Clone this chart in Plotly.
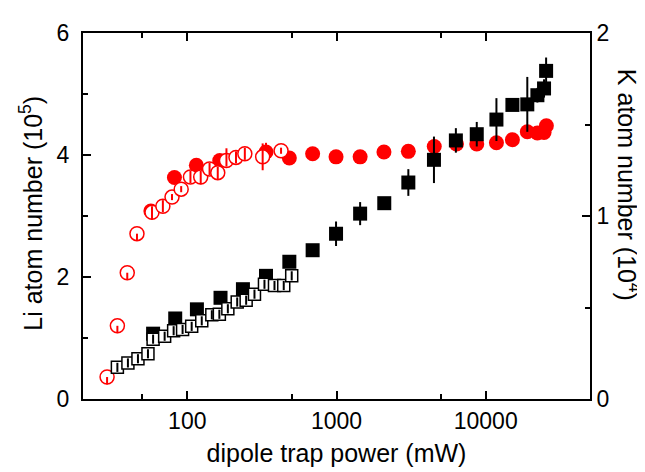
import plotly.graph_objects as go

# ---- data (dipole trap power in mW) ----
# K (black squares, right axis, units of 1e4)
k_fill_x = [59, 83, 116, 167, 236, 337, 483, 692, 993, 1440, 2090, 3030, 4500,
            6310, 8710, 11800, 15100, 19000, 22200, 24600, 25400]
k_fill_y = [0.357, 0.440, 0.490, 0.553, 0.600, 0.673, 0.750, 0.813, 0.903, 1.013,
            1.070, 1.183, 1.307, 1.413, 1.447, 1.527, 1.607, 1.610, 1.660, 1.697, 1.793]
k_fill_err = [0.017, 0.017, 0.017, 0.017, 0.02, 0.02, 0.027, 0.027, 0.067, 0.063,
              0.027, 0.073, 0.127, 0.067, 0.067, 0.117, 0.027, 0.15, 0.04, 0.05, 0.073]

k_open_x = [34, 40, 46.7, 54.5, 59, 70.5, 81, 93, 107, 125, 146, 164, 187, 216,
            248, 282, 329, 384, 443, 501]
k_open_y = [0.173, 0.197, 0.220, 0.247, 0.327, 0.343, 0.373, 0.380, 0.397, 0.427,
            0.460, 0.463, 0.493, 0.530, 0.540, 0.573, 0.627, 0.620, 0.620, 0.673]
k_open_err = [0.025] * 20

# Li (red circles, left axis, units of 1e5)
li_fill_x = [57, 82, 115, 165, 337, 483, 692, 993, 1440, 2080, 3030, 4520, 6370,
             8710, 11800, 15100, 19000, 22200, 24600, 25500]
li_fill_y = [3.08, 3.63, 3.83, 3.91, 4.05, 3.95, 4.02, 3.97, 3.97, 4.05, 4.06, 4.14,
             4.18, 4.18, 4.20, 4.25, 4.38, 4.36, 4.37, 4.48]
li_fill_err = [0.05, 0.05, 0.05, 0.08, 0.15, 0.05, 0.05, 0.05, 0.05, 0.05, 0.05,
               0.05, 0.05, 0.05, 0.05, 0.05, 0.05, 0.05, 0.05, 0.05]

li_open_x = [29, 34, 39.6, 46, 58, 68.6, 79, 91, 105, 123, 141, 160, 183, 212, 243,
             320, 425]
li_open_y = [0.36, 1.20, 2.07, 2.71, 3.06, 3.16, 3.31, 3.44, 3.64, 3.64, 3.77, 3.71,
             3.91, 3.96, 4.02, 3.97, 4.07]
li_open_errp = [0, 0, 0, 0, 0.1, 0.1, 0.05, 0.05, 0.1, 0.1, 0.1, 0.1, 0.2, 0.1,
                0.1, 0.22, 0.05]
li_open_errm = [0.12, 0.12, 0.12, 0.12, 0.12, 0.1, 0.05, 0.05, 0.1, 0.12, 0.1, 0.12,
                0.1, 0.1, 0.1, 0.22, 0.05]

x_tickvals = [100, 1000, 10000]
x_minor = [50, 500, 5000]
li_ticks = [0, 2, 4, 6]
li_minor = [1, 3, 5]
k_ticks = [0, 1, 2]
k_minor = [0.5, 1.5]

FONT = "Liberation Sans, Arial, sans-serif"
RED = "#ff0000"

fig = go.Figure()

def ebar(arr, color, arrminus=None):
    d = dict(type="data", array=arr, visible=True, color=color, thickness=2, width=0)
    if arrminus is not None:
        d["symmetric"] = False
        d["arrayminus"] = arrminus
    return d

# K filled squares
fig.add_trace(go.Scatter(x=k_fill_x, y=k_fill_y, yaxis="y2", mode="markers",
                         marker=dict(symbol="square", size=14, color="black",
                                     line=dict(width=0)),
                         error_y=ebar(k_fill_err, "black"), showlegend=False))
# K open squares
fig.add_trace(go.Scatter(x=k_open_x, y=k_open_y, yaxis="y2", mode="markers",
                         marker=dict(symbol="square", size=12, color="white",
                                     line=dict(width=1.5, color="black")),
                         showlegend=False))
# Li filled circles
fig.add_trace(go.Scatter(x=li_fill_x, y=li_fill_y, mode="markers",
                         marker=dict(symbol="circle", size=15, color=RED,
                                     line=dict(width=0)),
                         error_y=ebar(li_fill_err, RED), showlegend=False))
# Li open circles
fig.add_trace(go.Scatter(x=li_open_x, y=li_open_y, mode="markers",
                         marker=dict(symbol="circle", size=14, color="white",
                                     line=dict(width=1.5, color=RED)),
                         showlegend=False))
# error bars drawn on top of open markers
fig.add_trace(go.Scatter(x=k_open_x, y=k_open_y, yaxis="y2", mode="markers",
                         marker=dict(size=1, color="rgba(0,0,0,0)"),
                         error_y=ebar(k_open_err, "black"), showlegend=False,
                         hoverinfo="skip"))
fig.add_trace(go.Scatter(x=li_open_x, y=li_open_y, mode="markers",
                         marker=dict(size=1, color="rgba(0,0,0,0)"),
                         error_y=ebar(li_open_errp, RED, li_open_errm),
                         showlegend=False, hoverinfo="skip"))

axis_common = dict(showgrid=False, zeroline=False, showline=True, linecolor="black",
                   linewidth=2, ticks="inside", tickcolor="black", tickwidth=1.5,
                   ticklen=8, tickfont=dict(family=FONT, size=23, color="black"))

fig.update_layout(
    width=645, height=472,
    margin=dict(l=75, r=63, t=16, b=81),
    paper_bgcolor="white", plot_bgcolor="white",
    font=dict(family=FONT, color="black"),
    xaxis=dict(type="log", range=[1.30103, 4.69897], tickvals=x_tickvals,
               ticktext=[str(v) for v in x_tickvals], mirror="ticks",
               minor=dict(tickvals=x_minor, ticks="inside", ticklen=5,
                          tickcolor="black", tickwidth=1.5),
               title=dict(text="dipole trap power (mW)",
                          font=dict(family=FONT, size=25, color="black"),
                          standoff=12),
               **axis_common),
    yaxis=dict(range=[0, 6], tickvals=li_ticks, ticktext=[str(v) for v in li_ticks],
               minor=dict(tickvals=li_minor, ticks="inside", ticklen=5,
                          tickcolor="black", tickwidth=1.5),
               ticklabelstandoff=7,
               **axis_common),
    yaxis2=dict(range=[0, 2], overlaying="y", side="right", tickvals=k_ticks,
                ticktext=[str(v) for v in k_ticks],
                minor=dict(tickvals=k_minor, ticks="inside", ticklen=5,
                           tickcolor="black", tickwidth=1.5),
                **axis_common),
    annotations=[
        dict(text="Li atom number (10<sup>5</sup>)", textangle=-90, xref="paper",
             yref="paper", x=-0.1026, y=0.509, xanchor="center", yanchor="middle",
             showarrow=False, font=dict(family=FONT, size=25, color="black")),
        dict(text="K atom number (10<sup>4</sup>)", textangle=90, xref="paper",
             yref="paper", x=1.077, y=0.585, xanchor="center", yanchor="middle",
             showarrow=False, font=dict(family=FONT, size=25, color="black")),
    ],
)

fig.write_html("out.html")
